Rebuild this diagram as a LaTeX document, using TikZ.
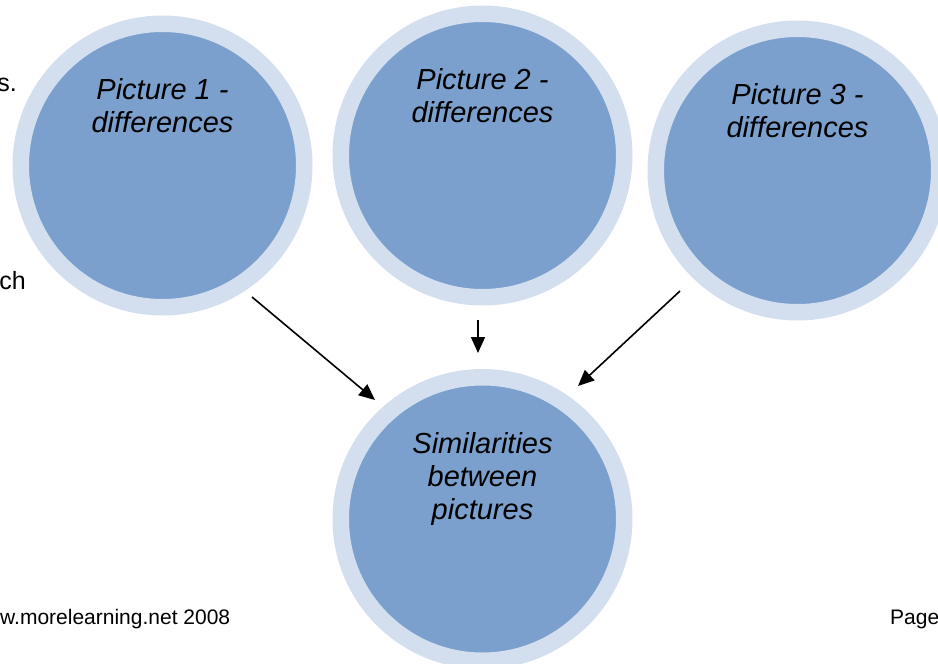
\documentclass[tikz,border=0pt]{standalone}
\usepackage{fontspec}
\setmainfont{Liberation Sans}
\usetikzlibrary{arrows.meta,calc}
\definecolor{ringc}{HTML}{D3DFEE}
\definecolor{fillc}{HTML}{7BA0CD}
\begin{document}
\begin{tikzpicture}[x=1pt,y=-1pt,
  bubble/.style={circle, fill=fillc, draw=ringc, line width=16.5pt, minimum size=283.5pt, inner sep=0pt},
  bubble text/.style={font=\fontsize{29}{33}\selectfont\itshape, align=center, inner sep=0pt, anchor=north},
  side text/.style={font=\fontsize{21}{25}\selectfont, inner sep=0pt},
  edge text/.style={font=\fontsize{25}{29}\selectfont, inner sep=0pt},
  arr/.style={line width=1.6pt, -{Triangle[length=16pt,width=14pt]}}]
\useasboundingbox (0,0) rectangle (938,664);
\clip (0,0) rectangle (938,664);
\node[bubble] (c1) at (162.5,165.5) {};
\node[bubble] (c2) at (482.5,155.5) {};
\node[bubble] (c3) at (797.5,170.5) {};
\node[bubble] (c4) at (482.5,519) {};
\node[bubble text] (t1) at ($(c1)+(0,-87)$) {Picture 1 -\\differences};
\node[bubble text] (t2) at ($(c2)+(0,-87)$) {Picture 2 -\\differences};
\node[bubble text] (t3) at ($(c3)+(0,-87)$) {Picture 3 -\\differences};
\node[bubble text] (t4) at ($(c4)+(0,-87)$) {Similarities\\between\\pictures};
\draw[arr] ($(c1)+(89.5,131.5)$) -- ($(c4)+(-107.5,-119)$);
\draw[arr] ($(c2)+(-4.5,164.5)$) -- ($(c4)+(-4.5,-166)$);
\draw[arr] ($(c3)+(-117.5,120.5)$) -- ($(c4)+(95.5,-133)$);
\node[edge text, anchor=base east] (s1) at (17,91) {s.};
\node[edge text, anchor=base east] (s2) at (26,289) {ch};
\node[side text, anchor=base west] (f1) at (0,624) {w.morelearning.net 2008};
\node[side text, anchor=base west] (f2) at (890,624) {Page};
\end{tikzpicture}
\end{document}
